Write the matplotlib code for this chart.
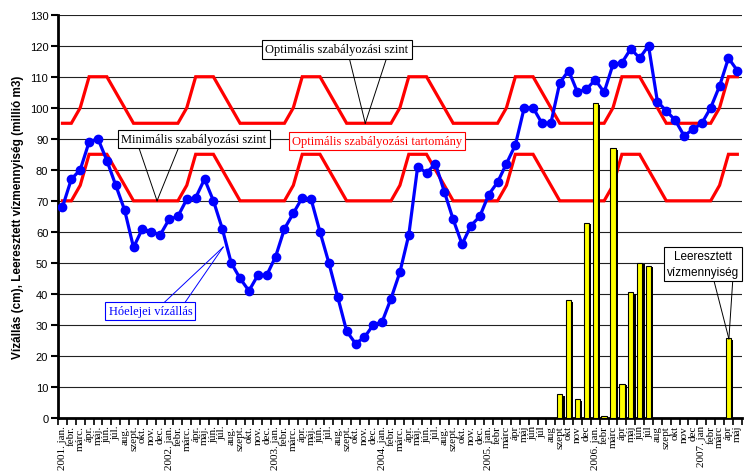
import matplotlib
matplotlib.use("Agg")
from matplotlib import pyplot as plt
import matplotlib.transforms as mtransforms
import numpy as np

# --- data -------------------------------------------------------------
years = [2001, 2002, 2003, 2004, 2005, 2006, 2007]
months_dot = ['jan.', 'febr.', 'márc.', 'ápr.', 'máj.', 'jún.', 'júl.',
              'aug.', 'szept.', 'okt.', 'nov.', 'dec.']
months_plain = ['jan.', 'febr', 'márc', 'ápr', 'máj', 'jún', 'júl',
                'aug', 'szept', 'okt', 'nov', 'dec']

# Hóelejei vízállás (cm)
water_level = [68, 77, 80, 89, 90, 83, 75, 67, 55, 61, 60, 59,
               64, 65, 70.5, 71, 77, 70, 61, 50, 45, 41, 46, 46,
               52, 61, 66, 71, 70.5, 60, 50, 39, 28, 24, 26, 30,
               31, 38.5, 47, 59, 81, 79, 82, 73, 64, 56, 62, 65,
               72, 76, 82, 88, 100, 100, 95, 95, 108, 112, 105, 106,
               109, 105, 114, 114.5, 119, 116, 120, 102, 99, 96, 91, 93,
               95, 100, 107, 116, 112]

# optimális szabályozási szint (felső) és minimális szabályozási szint (alsó)
opt_level = [95, 95, 100, 110, 110, 110, 105, 100, 95, 95, 95, 95,
             95, 95, 100, 110, 110, 110, 105, 100, 95, 95, 95, 95,
             95, 95, 100, 110, 110, 110, 105, 100, 95, 95, 95, 95,
             95, 95, 100, 110, 110, 110, 105, 100, 95, 95, 95, 95,
             95, 95, 100, 110, 110, 110, 105, 100, 95, 95, 95, 95,
             95, 95, 100, 110, 110, 110, 105, 100, 95, 95, 95, 95,
             95, 95, 100, 110, 110]
min_level = [70, 70, 75, 85, 85, 85, 80, 75, 70, 70, 70, 70,
             70, 70, 75, 85, 85, 85, 80, 75, 70, 70, 70, 70,
             70, 70, 75, 85, 85, 85, 80, 75, 70, 70, 70, 70,
             70, 70, 75, 85, 85, 85, 80, 75, 70, 70, 70, 70,
             70, 70, 75, 85, 85, 85, 80, 75, 70, 70, 70, 70,
             70, 70, 75, 85, 85, 85, 80, 75, 70, 70, 70, 70,
             70, 70, 75, 85, 85]

# Leeresztett vízmennyiség (millió m3): (év, hónap, érték)
release_year = [2005, 2005, 2005, 2005, 2006, 2006, 2006, 2006, 2006, 2006, 2006, 2007]
release_month = [9, 10, 11, 12, 1, 2, 3, 4, 5, 6, 7, 4]
release_vals = [7.7, 38, 6, 63, 101.5, 0.5, 87, 11, 40.5, 50, 49, 25.7]

# --- tick labels ------------------------------------------------------
labels = []
for y in years:
    names = months_dot if y < 2005 else months_plain
    for m, name in enumerate(names):
        if y == 2007 and m > 4:
            break
        if m == 0:
            labels.append(f'{y}. jan.' if y < 2007 else f'{y}. jan')
        else:
            labels.append(name)

x = np.arange(len(water_level))
rel_x = np.array([(yy - years[0]) * 12 + mm - 1
                  for yy, mm in zip(release_year, release_month)])

# --- figure -----------------------------------------------------------
fig = plt.figure(figsize=(7.44, 4.77), dpi=100)
ax = fig.add_axes([0.078, 0.1216, 0.919, 0.8455])

for v in range(10, 140, 10):
    ax.axhline(v, color='#222222', lw=0.8, zorder=0)

ax.plot(x, opt_level, color='#FF0000', lw=2.3, zorder=2, solid_joinstyle='miter')
ax.plot(x, min_level, color='#FF0000', lw=2.3, zorder=2, solid_joinstyle='miter')

shadow = mtransforms.offset_copy(ax.transData, fig=fig, x=2.2, y=-1.5, units='dots')
ax.bar(rel_x, release_vals, width=0.6, color='black', zorder=2.5, transform=shadow)
ax.bar(rel_x, release_vals, width=0.6, color='#FFFF00', edgecolor='black',
       lw=0.8, zorder=3)

ax.plot(x, water_level, color='#0000FF', lw=2.3, marker='o', markersize=6,
        zorder=4)

ax.set_xlim(-0.5, len(x) - 0.5)
ax.set_ylim(0, 130)
ax.set_yticks(range(0, 140, 10))
ax.set_xticks(x)
ax.set_xticklabels(labels, rotation=90, family='Liberation Serif', fontsize=8,
                   va='top', ha='center')
ax.set_xticks(np.arange(len(x) + 1) - 0.5, minor=True)
ax.tick_params(axis='x', which='major', length=0, pad=5)
ax.tick_params(axis='x', which='minor', length=5, width=1.2, direction='out')
ax.tick_params(axis='y', length=5, width=1.5, direction='out', labelsize=8, pad=2)
for lab in ax.get_yticklabels():
    lab.set_family('Liberation Sans')

for s in ['top', 'right']:
    ax.spines[s].set_visible(False)
ax.spines['left'].set_linewidth(2)
ax.spines['bottom'].set_linewidth(2)

ax.set_ylabel('Vízállás (cm), Leeresztett vízmennyiség (millió m3)',
              family='Liberation Sans', fontweight='bold', fontsize=8.5, labelpad=4)


# --- callouts ---------------------------------------------------------
def callout(text, bx, by, x1, x2, yb, tip, color='black', family='Liberation Serif',
            size=9, ha='center'):
    for xa in (x1, x2):
        ax.plot([xa, tip[0]], [yb, tip[1]], color=color, lw=0.7, zorder=5,
                clip_on=False)
    ax.text(bx, by, text, color=color, family=family, fontsize=size, ha=ha,
            va='center', zorder=6, clip_on=False, linespacing=1.5,
            bbox=dict(boxstyle='square,pad=0.25', fc='white', ec=color, lw=0.8))


callout('Optimális szabályozási szint', 30.9, 118.8, 32.3, 36.5, 116, (34.1, opt_level[34]))
callout('Minimális szabályozási szint', 14.8, 89.9, 8.5, 13.2, 88, (10.65, min_level[10]))
callout('Hóelejei vízállás', 9.9, 34.4, 11.0, 13.5, 36, (18.1, 55.1), color='#0000FF')
callout('Leeresztett\nvízmennyiség', 72.1, 49.6, 73.3, 75.5, 45, (75.05, 25.5),
        family='Liberation Sans', size=8.5)
ax.text(35.4, 89.4, 'Optimális szabályozási tartomány', color='#FF0000',
        family='Liberation Serif', fontsize=9, ha='center', va='center', zorder=6,
        bbox=dict(boxstyle='square,pad=0.25', fc='white', ec='#FF0000', lw=0.8))

fig.savefig('out.png', dpi=100)
